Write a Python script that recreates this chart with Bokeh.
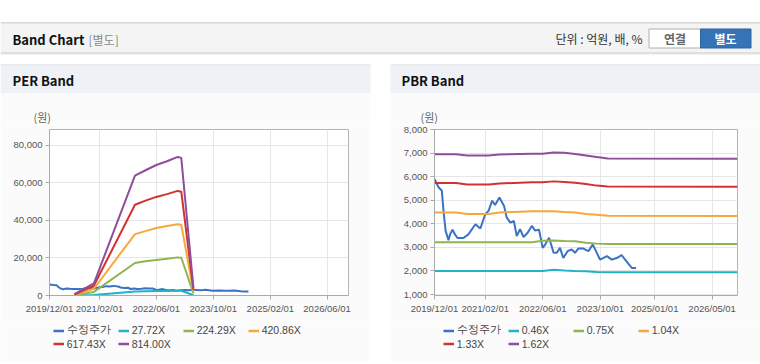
import pandas as pd
from bokeh.plotting import figure
from bokeh.layouts import column, row
from bokeh.models import (Range1d, FixedTicker, DatetimeTickFormatter, NumeralTickFormatter,
                          Legend, LegendItem, Spacer)
from bokeh.core.properties import value
from bokeh.embed import file_html
from bokeh.resources import INLINE

# ---------------- data ----------------
PRICE_DATES = ["2019-12-01", "2020-01-04", "2020-02-01", "2020-02-15", "2020-03-04", "2020-03-28",
               "2020-04-10", "2020-05-01", "2020-05-22", "2020-06-12", "2020-08-01", "2020-09-12",
               "2020-11-10", "2020-12-22", "2021-02-01", "2021-03-01", "2021-04-01", "2021-04-25",
               "2021-06-01", "2021-07-10", "2021-08-01", "2021-09-01", "2021-10-01", "2021-10-25",
               "2021-11-22", "2021-12-22", "2022-01-25", "2022-03-01", "2022-03-28", "2022-05-01",
               "2022-06-01", "2022-06-22", "2022-07-25", "2022-09-01", "2022-09-28", "2022-10-25",
               "2022-11-22", "2022-12-28", "2023-02-01", "2023-03-01", "2023-03-28", "2023-05-10",
               "2023-06-22", "2023-07-28", "2023-08-25", "2023-09-28", "2023-11-25", "2024-01-05",
               "2024-02-15", "2024-03-28", "2024-05-25", "2024-06-22", "2024-07-28"]
PRICE = [5900, 5550, 5400, 4550, 3700, 3300,
         3550, 3750, 3550, 3400, 3400, 3550,
         3980, 3800, 4400, 4550, 4980, 4800,
         5120, 4760, 4270, 4050, 4120, 3480,
         3770, 3440, 3620, 3910, 3720, 3750,
         2980, 3120, 3410, 2770, 2770, 2980,
         2550, 2840, 2910, 2770, 2950, 2950,
         2840, 3120, 2840, 2480, 2630, 2480,
         2550, 2670, 2300, 2130, 2130]

PER_DATES = ["2020-07-01", "2020-12-15", "2021-12-01", "2022-03-01", "2022-06-01",
             "2022-09-01", "2022-12-01", "2023-01-01", "2023-04-15"]
PER_27 = [20, 230, 2100, 2250, 2350, 2450, 2520, 2500, 140]
PER_224 = [190, 1900, 17300, 18200, 18900, 19600, 20300, 20100, 1100]
PER_420 = [360, 3600, 32700, 34300, 35900, 37000, 38000, 37700, 2100]
PER_617 = [530, 5300, 48300, 50500, 52500, 54000, 55700, 55300, 3000]
PER_814 = [700, 6500, 63800, 66700, 69500, 71500, 73800, 73300, 4000]
PER_LABELS = ["수정주가", "27.72X", "224.29X", "420.86X", "617.43X", "814.00X"]

PBR_DATES = ["2019-12-01", "2020-06-01", "2020-09-01", "2021-03-01", "2021-06-01", "2022-03-01",
             "2022-06-01", "2022-09-01", "2022-12-01", "2023-03-01", "2023-06-01", "2023-09-01",
             "2023-12-01", "2026-12-01"]
PBR_046 = [2000, 2000, 2000, 2000, 2000, 2000, 2000, 2050, 2020, 2000, 1990, 1960, 1950, 1950]
PBR_075 = [3220, 3220, 3220, 3220, 3220, 3220, 3280, 3290, 3270, 3260, 3200, 3160, 3140, 3140]
PBR_104 = [4480, 4480, 4420, 4420, 4480, 4530, 4530, 4530, 4500, 4480, 4420, 4380, 4340, 4330]
PBR_133 = [5730, 5730, 5670, 5670, 5710, 5760, 5760, 5800, 5770, 5740, 5690, 5620, 5580, 5570]
PBR_162 = [6950, 6950, 6900, 6900, 6940, 6970, 6970, 7020, 7010, 6960, 6900, 6830, 6770, 6760]
PBR_LABELS = ["수정주가", "0.46X", "0.75X", "1.04X", "1.33X", "1.62X"]

PER_XTICKS = ["2019-12-01", "2021-02-01", "2022-06-01", "2023-10-01", "2025-02-01", "2026-06-01"]
PBR_XTICKS = ["2019-12-01", "2021-02-01", "2022-06-01", "2023-10-01", "2025-01-01", "2026-05-01"]
PER_YTICKS = [0, 20000, 40000, 60000, 80000]
PBR_YTICKS = [1000, 2000, 3000, 4000, 5000, 6000, 7000, 8000]
X_START, X_END = "2019-12-01", "2026-12-01"

COLORS = ["#3b73c4", "#22b3c5", "#8fb552", "#f4a93a", "#d1322e", "#8f4e9b"]

KFONT = "Noto Sans CJK KR"
LFONT = "Liberation Sans"

TOP_H = 124
CHART_H = 196
LEG_H = 42
PANEL_W = 370
GAP_W = 20


def ms(d):
    return pd.Timestamp(d).timestamp() * 1000.0


def add_series(p, band_dates, bands, width):
    rs = [p.line(pd.to_datetime(PRICE_DATES), PRICE, line_color=COLORS[0], line_width=width)]
    bd = pd.to_datetime(band_dates)
    for vals, c in zip(bands, COLORS[1:]):
        rs.append(p.line(bd, vals, line_color=c, line_width=width))
    return rs


def make_chart(band_dates, bands, xticks, yticks, y0, y1, mbl, mbr, mbt, mbb):
    p = figure(width=PANEL_W, height=CHART_H, x_axis_type="datetime",
               output_backend="svg", toolbar_location=None,
               x_range=Range1d(pd.Timestamp(X_START), pd.Timestamp(X_END)),
               y_range=Range1d(y0, y1),
               min_border_left=mbl, min_border_right=mbr,
               min_border_top=mbt, min_border_bottom=mbb)
    p.border_fill_color = "#fbfbfb"
    p.background_fill_color = "#ffffff"
    p.outline_line_color = "#b4b4b4"

    xt = FixedTicker(ticks=[ms(d) for d in xticks])
    p.xaxis.ticker = xt
    p.xgrid.ticker = xt
    fmt = "%Y/%m/%d"
    p.xaxis.formatter = DatetimeTickFormatter(days=fmt, months=fmt, years=fmt, hours=fmt,
                                              hourmin=fmt, minutes=fmt, minsec=fmt,
                                              seconds=fmt, milliseconds=fmt, microseconds=fmt)
    yt = FixedTicker(ticks=yticks)
    p.yaxis.ticker = yt
    p.ygrid.ticker = yt
    p.yaxis.formatter = NumeralTickFormatter(format="0,0")

    for ax in (p.xaxis[0], p.yaxis[0]):
        ax.axis_line_color = "#aaaaaa"
        ax.major_tick_line_color = "#aaaaaa"
        ax.minor_tick_line_color = None
        ax.major_tick_in = 0
        ax.major_tick_out = 4
        ax.major_label_standoff = 3
        ax.major_label_text_font = LFONT
        ax.major_label_text_font_size = "9.5px"
        ax.major_label_text_color = "#555555"
    p.grid.grid_line_color = "#e6e6e6"

    add_series(p, band_dates, bands, 2)
    return p


def make_legend(band_dates, bands, labels):
    # legend strip below the chart: same series, plotted outside the (hidden) y range,
    # so only the legend entries are visible
    q = figure(width=PANEL_W, height=LEG_H, x_axis_type="datetime",
               x_range=Range1d(pd.Timestamp(X_START), pd.Timestamp(X_END)),
               y_range=Range1d(-2e6, -1e6),
               output_backend="svg", toolbar_location=None, min_border=0,
               x_axis_location=None, y_axis_location=None)
    q.grid.visible = False
    q.outline_line_color = None
    q.background_fill_color = "#fbfbfb"
    q.border_fill_color = "#fbfbfb"
    rs = add_series(q, band_dates, bands, 2.5)
    items = [LegendItem(label=lab, renderers=[r]) for lab, r in zip(labels, rs)]
    for part, vy in ((items[:4], 25), (items[4:], 12)):
        leg = Legend(items=part, location=(52.7, vy), orientation="horizontal",
                     glyph_width=11, glyph_height=13, label_height=13, label_width=51,
                     label_standoff=3, spacing=0, padding=0, margin=0,
                     border_line_color=None, background_fill_alpha=0,
                     label_text_font=LFONT, label_text_font_size="10.5px",
                     label_text_color="#444444")
        q.add_layout(leg)
    return q


PER_BANDS = [PER_27, PER_224, PER_420, PER_617, PER_814]
PBR_BANDS = [PBR_046, PBR_075, PBR_104, PBR_133, PBR_162]
per = make_chart(PER_DATES, PER_BANDS, PER_XTICKS, PER_YTICKS, 0, 88400, 49, 22, 4, 24)
pbr = make_chart(PBR_DATES, PBR_BANDS, PBR_XTICKS, PBR_YTICKS, 960, 8000, 44, 23, 5, 25)
per_leg = make_legend(PER_DATES, PER_BANDS, PER_LABELS)
pbr_leg = make_legend(PBR_DATES, PBR_BANDS, PBR_LABELS)

# ---------------- header canvas (page coordinates) ----------------
top = figure(width=760, height=TOP_H, x_range=Range1d(0, 760), y_range=Range1d(TOP_H, 0),
             output_backend="svg", toolbar_location=None, min_border=0,
             x_axis_location=None, y_axis_location=None)
top.grid.visible = False
top.outline_line_color = None
top.background_fill_color = "#ffffff"
top.border_fill_color = "#ffffff"

top.quad(left=0, right=760, top=22, bottom=23, fill_color="#b0b0b0", line_color=None)
top.quad(left=0, right=760, top=23, bottom=52, fill_color="#f4f4f4", line_color=None)
top.quad(left=0, right=760, top=52, bottom=53, fill_color="#c4c4c4", line_color=None)
top.quad(left=0, right=760, top=53, bottom=54, fill_color="#e4e4e4", line_color=None)

top.text(x=[12], y=[38.5], text=["Band Chart"], text_font=value(KFONT), text_font_size="13px",
         text_font_style="bold", text_color="#111111", text_baseline="middle")
top.text(x=[88], y=[38.5], text=["[별도]"], text_font=value(KFONT), text_font_size="12px",
         text_color="#8a8a8a", text_baseline="middle")
top.text(x=[642], y=[38], text=["단위 : 억원, 배, %"], text_font=value(KFONT), text_font_size="12px",
         text_color="#333333", text_baseline="middle", text_align="right")

top.quad(left=[648.5], right=[700.5], top=[28.5], bottom=[47.5], fill_color="#ffffff",
         line_color="#b0b0b0", line_width=1)
top.quad(left=[700], right=[750.5], top=[28.5], bottom=[47.5], fill_color="#3572b6",
         line_color="#2f65a3", line_width=1)
top.text(x=[674.5], y=[38], text=["연결"], text_font=value(KFONT), text_font_size="12px",
         text_font_style="bold", text_color="#666666", text_baseline="middle", text_align="center")
top.text(x=[725], y=[38], text=["별도"], text_font=value(KFONT), text_font_size="12px",
         text_font_style="bold", text_color="#ffffff", text_baseline="middle", text_align="center")

for lft, rgt, ttl, lx, ux in [(0, 370, "PER Band", 12, 33), (390, 760, "PBR Band", 401, 420)]:
    top.quad(left=lft, right=rgt, top=64, bottom=65, fill_color="#d6d6d6", line_color=None)
    top.quad(left=lft, right=rgt, top=65, bottom=93, fill_color="#eef2f7", line_color=None)
    top.quad(left=lft, right=rgt, top=93, bottom=TOP_H + 1, fill_color="#fbfbfb", line_color=None)
    top.text(x=[lx], y=[80], text=[ttl], text_font=value(KFONT), text_font_size="13px",
             text_font_style="bold", text_color="#111111", text_baseline="middle")
    top.text(x=[ux], y=[116.5], text=["(원)"], text_font=value(KFONT), text_font_size="11px",
             text_color="#666666", text_baseline="middle")

# ---------------- bottom strip ----------------
bot = figure(width=760, height=2, x_range=Range1d(0, 760), y_range=Range1d(2, 0),
             output_backend="svg", toolbar_location=None, min_border=0,
             x_axis_location=None, y_axis_location=None)
bot.grid.visible = False
bot.outline_line_color = None
bot.background_fill_color = "#ffffff"
bot.border_fill_color = "#ffffff"
bot.quad(left=[0, 390], right=[370, 760], top=[0, 0], bottom=[1, 1],
         fill_color="#d8d8d8", line_color=None)

layout = column(top,
                row(per, Spacer(width=GAP_W, height=CHART_H), pbr),
                row(per_leg, Spacer(width=GAP_W, height=LEG_H), pbr_leg),
                bot)
open("out.html", "w").write(file_html(layout, INLINE))
